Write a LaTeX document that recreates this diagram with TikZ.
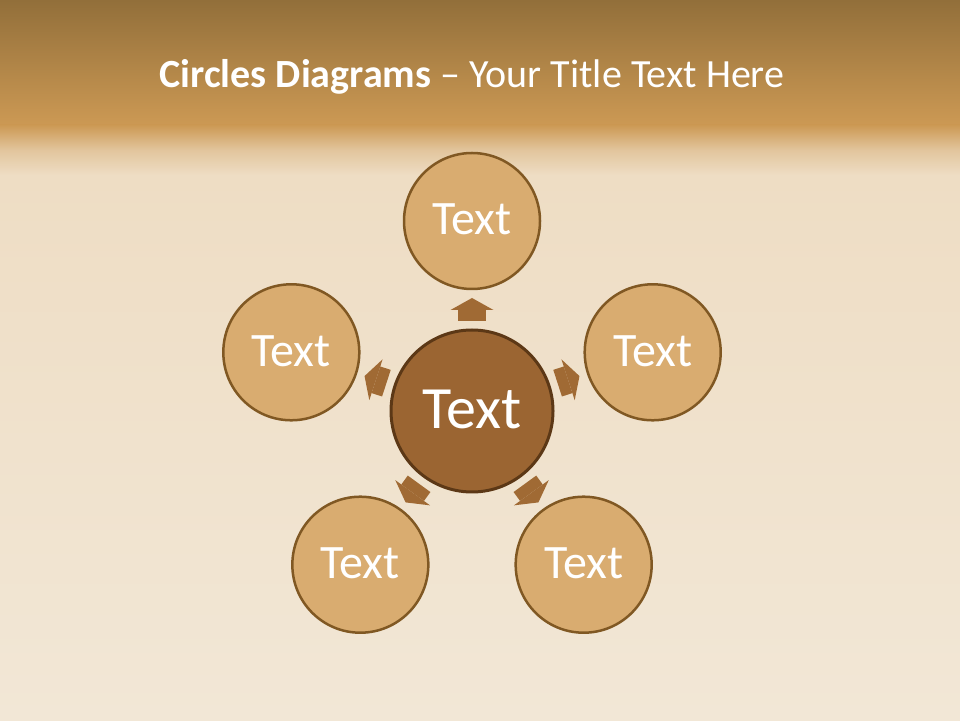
\documentclass[tikz,border=0pt]{standalone}
\usepackage{fontspec}
\setmainfont{Carlito}
\usetikzlibrary{arrows.meta}
\usetikzlibrary{calc}
\usetikzlibrary{positioning}
\definecolor{woodlight}{RGB}{242,231,214}
\definecolor{woodwarm}{RGB}{238,221,196}
\definecolor{bandtop}{RGB}{146,111,58}
\definecolor{bandlow}{RGB}{204,153,84}
\definecolor{tanfill}{RGB}{217,172,112}
\definecolor{tanline}{RGB}{128,88,35}
\definecolor{hubfill}{RGB}{155,101,50}
\definecolor{hubline}{RGB}{92,56,22}
\definecolor{arrowbrown}{RGB}{160,106,52}
\tikzstyle{outer}=[circle, draw=tanline, line width=2.5pt, fill=tanfill, minimum size=136pt, inner sep=0pt, outer sep=0pt, text=white, font=\fontsize{48}{48}\selectfont]
\tikzstyle{hub}=[circle, draw=hubline, line width=3pt, fill=hubfill, minimum size=162pt, inner sep=0pt, outer sep=0pt, text=white, font=\fontsize{60}{60}\selectfont]

\begin{document}
\begin{tikzpicture}[x=1pt,y=1pt]
	\useasboundingbox (0,0) rectangle (960,720);
	% background
	\shade[top color=woodwarm, bottom color=woodlight] (0,0) rectangle (960,545);
	\shade[top color=bandtop, bottom color=bandlow] (0,595) rectangle (960,720);
	\shade[top color=bandlow, bottom color=woodwarm, middle color={bandlow!35!woodwarm}] (0,545) rectangle (960,595);
	\node (title) at (472,632) [anchor=base, text=white, font=\fontsize{40}{40}\selectfont] {\textbf{Circles Diagrams} -- Your Title Text Here};
	% circles
	\node (center) at (472,309) [hub, text depth=0pt] {\raisebox{3pt}{Text}};
	\node (top) at ($(center)+(90:190)$) [outer] {\raisebox{3pt}{Text}};
	\node (right) at ($(center)+(18:190)$) [outer] {\raisebox{3pt}{Text}};
	\node (lowright) at ($(center)+(-54:190)$) [outer] {\raisebox{3pt}{Text}};
	\node (lowleft) at ($(center)+(-126:190)$) [outer] {\raisebox{3pt}{Text}};
	\node (left) at ($(center)+(162:190)$) [outer] {\raisebox{3pt}{Text}};
	% block arrows
	\path[-{Triangle[width=43pt,length=12pt,line width=0pt]}, shorten >= 9pt, shorten <= 9pt, line width=28pt, arrowbrown]
		(center) edge (top)
		(center) edge (right)
		(center) edge (lowright)
		(center) edge (lowleft)
		(center) edge (left);
\end{tikzpicture}
\end{document}
